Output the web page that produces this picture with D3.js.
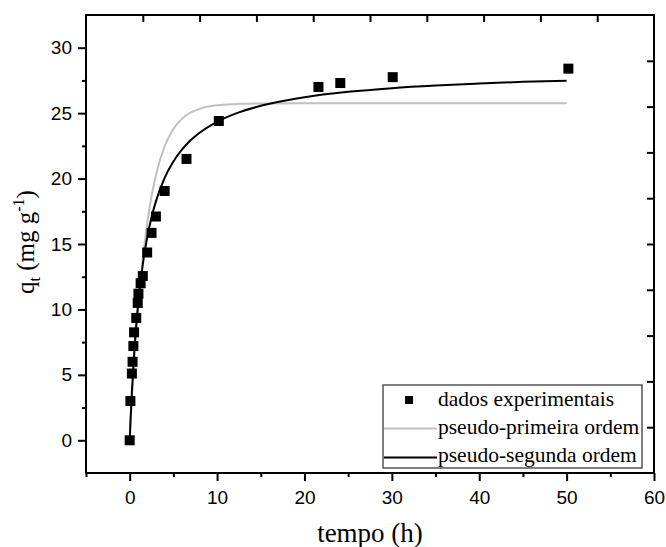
<!DOCTYPE html>
<html>
<head>
<meta charset="utf-8">
<script src="https://cdn.jsdelivr.net/npm/d3@7"></script>
<style>
  body { margin: 0; background: #fff; }
  svg { display: block; }
</style>
</head>
<body>
<div id="chart"></div>
<script>
// experimental points (tempo in h, q_t in mg/g)
const tempo = [0, 0.083, 0.25, 0.33, 0.42, 0.5, 0.75, 0.92, 1.0, 1.25, 1.5, 2.0, 2.5, 3.0, 4.0, 6.5, 10.2, 21.6, 24.1, 30.1, 50.2];
const qt    = [0, 3.0, 5.1, 6.0, 7.2, 8.25, 9.35, 10.5, 11.2, 12.0, 12.55, 14.35, 15.85, 17.1, 19.05, 21.5, 24.4, 27.0, 27.3, 27.75, 28.4];

// fitted curves
const fitTempo  = [0, 0.1, 0.25, 0.5, 0.75, 1, 1.5, 2, 2.5, 3, 4, 5, 6, 7, 8, 10, 12.5, 15, 20, 25, 30, 35, 40, 45, 50];
const primeira  = [0, 1.29, 3.12, 5.85, 8.24, 10.37, 13.86, 16.56, 18.65, 20.26, 22.47, 23.79, 24.58, 25.05, 25.33, 25.6, 25.71, 25.74, 25.75, 25.75, 25.75, 25.75, 25.75, 25.75, 25.75];
const segunda   = [0, 1.61, 3.7, 6.55, 8.81, 10.65, 13.45, 15.49, 17.04, 18.26, 20.05, 21.3, 22.23, 22.94, 23.5, 24.34, 25.06, 25.56, 26.22, 26.63, 26.91, 27.11, 27.26, 27.39, 27.48];

const xTicks = [0, 10, 20, 30, 40, 50, 60];
const xMinor = [-5, 5, 15, 25, 35, 45, 55];
const yTicks = [0, 5, 10, 15, 20, 25, 30];
const yMinor = [2.5, 7.5, 12.5, 17.5, 22.5, 27.5];
const legendLabels = ["dados experimentais", "pseudo-primeira ordem", "pseudo-segunda ordem"];

const W = 666, H = 547;
const plot = {left: 86, right: 654, top: 15, bottom: 473};
const sans = "'Liberation Sans', Arial, sans-serif";
const serif = "'Liberation Serif', 'Times New Roman', serif";

const svg = d3.select("#chart").append("svg")
  .attr("width", W)
  .attr("height", H);

const x = d3.scaleLinear().domain([-5, 60]).range([plot.left, plot.right]);
const y = d3.scaleLinear().domain([-2.5, 32.5]).range([plot.bottom, plot.top]);
// mirrored axes on top/right carry their own default 0-10 scale
const xTop = d3.scaleLinear().domain([0, 10]).range([plot.left, plot.right]);
const yRight = d3.scaleLinear().domain([0, 10]).range([plot.bottom, plot.top]);

function styleAxis(g) {
  g.select(".domain").remove();
  g.selectAll("line").attr("stroke", "#000").attr("stroke-width", 2);
  g.selectAll("text").attr("fill", "#000").style("font-family", sans).style("font-size", "19px");
}

// bottom axis
svg.append("g").attr("transform", `translate(0,${plot.bottom})`)
  .call(d3.axisBottom(x).tickValues(xTicks).tickSize(8).tickPadding(10))
  .call(styleAxis);
svg.append("g").attr("transform", `translate(0,${plot.bottom})`)
  .call(d3.axisBottom(x).tickValues(xMinor).tickSize(4).tickFormat(""))
  .call(styleAxis);

// left axis
svg.append("g").attr("transform", `translate(${plot.left},0)`)
  .call(d3.axisLeft(y).tickValues(yTicks).tickSize(8).tickPadding(6))
  .call(styleAxis);
svg.append("g").attr("transform", `translate(${plot.left},0)`)
  .call(d3.axisLeft(y).tickValues(yMinor).tickSize(4).tickFormat(""))
  .call(styleAxis);

// top and right ticks point inward
svg.append("g").attr("transform", `translate(0,${plot.top})`)
  .call(d3.axisBottom(xTop).tickValues(d3.range(1, 10)).tickSize(7).tickFormat(""))
  .call(styleAxis);
svg.append("g").attr("transform", `translate(${plot.right},0)`)
  .call(d3.axisLeft(yRight).tickValues(d3.range(1, 10)).tickSize(7).tickFormat(""))
  .call(styleAxis);

// frame
svg.append("rect")
  .attr("x", plot.left).attr("y", plot.top)
  .attr("width", plot.right - plot.left).attr("height", plot.bottom - plot.top)
  .attr("fill", "none").attr("stroke", "#000").attr("stroke-width", 2);

// fitted lines
const line = d3.line().curve(d3.curveMonotoneX);
const primeiraPts = fitTempo.map((t, i) => [x(t), y(primeira[i])]);
const segundaPts = fitTempo.map((t, i) => [x(t), y(segunda[i])]);

svg.append("path").attr("d", line(primeiraPts))
  .attr("fill", "none").attr("stroke", "#c0c0c0").attr("stroke-width", 2);
svg.append("path").attr("d", line(segundaPts))
  .attr("fill", "none").attr("stroke", "#000").attr("stroke-width", 2);

// experimental squares
const sq = 10;
svg.append("g").selectAll("rect")
  .data(tempo.map((t, i) => [t, qt[i]]))
  .join("rect")
  .attr("x", d => x(d[0]) - sq / 2)
  .attr("y", d => y(d[1]) - sq / 2)
  .attr("width", sq).attr("height", sq)
  .attr("fill", "#000");

// legend
const lg = svg.append("g");
lg.append("rect")
  .attr("x", 383).attr("y", 385).attr("width", 259).attr("height", 83)
  .attr("fill", "#fff").attr("stroke", "#555").attr("stroke-width", 1.5);
lg.append("rect").attr("x", 405).attr("y", 396).attr("width", 8).attr("height", 8).attr("fill", "#000");
lg.append("line").attr("x1", 384).attr("x2", 437).attr("y1", 428.5).attr("y2", 428.5)
  .attr("stroke", "#c0c0c0").attr("stroke-width", 2);
lg.append("line").attr("x1", 384).attr("x2", 437).attr("y1", 457.5).attr("y2", 457.5)
  .attr("stroke", "#000").attr("stroke-width", 2);
lg.selectAll("text.lbl")
  .data(legendLabels)
  .join("text")
  .attr("class", "lbl")
  .attr("x", 438)
  .attr("y", (d, i) => 406 + i * 28)
  .style("font-family", serif)
  .style("font-size", "21.5px")
  .attr("fill", "#000")
  .text(d => d);

// axis titles
svg.append("text")
  .attr("x", 370).attr("y", 542)
  .attr("text-anchor", "middle")
  .style("font-family", serif).style("font-size", "27px")
  .text("tempo (h)");

const yt = svg.append("text")
  .attr("transform", "translate(34,242) rotate(-90)")
  .attr("text-anchor", "middle")
  .style("font-family", serif).style("font-size", "25px");
yt.append("tspan").text("q");
yt.append("tspan").attr("dy", 6).style("font-size", "16px").text("t");
yt.append("tspan").attr("dy", -6).text(" (mg g");
yt.append("tspan").attr("dy", -10).style("font-size", "16px").text("-1");
yt.append("tspan").attr("dy", 10).text(")");
</script>
</body>
</html>
